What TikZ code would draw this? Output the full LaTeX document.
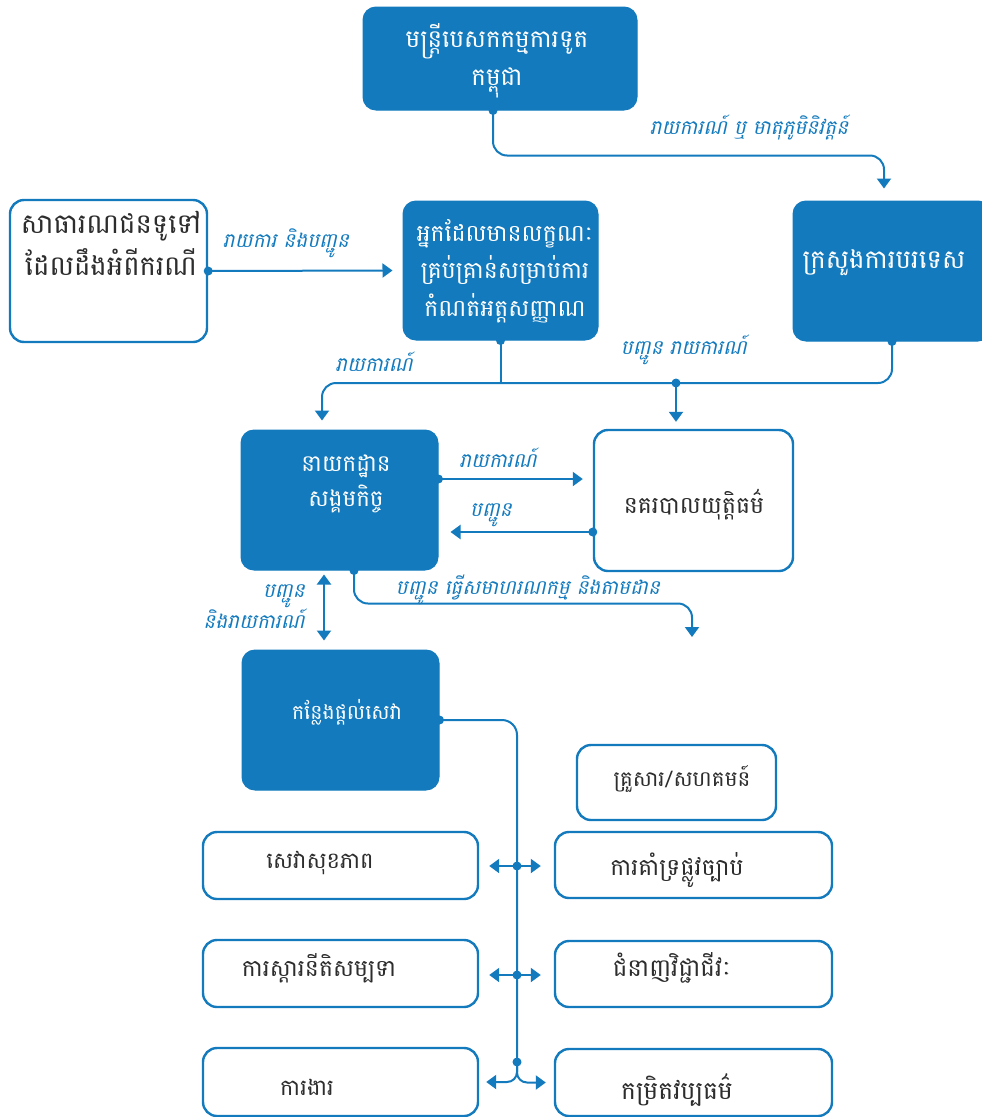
\documentclass[tikz,border=0pt]{standalone}
\usepackage{fontspec}
\usetikzlibrary{arrows.meta,calc}
\newfontfamily\kh[Script=Khmer]{Battambang}
\newfontfamily\khi[Script=Khmer,FakeSlant=0.22]{Battambang}
\newcommand\khs[2]{\kh\fontsize{#1}{#2}\selectfont}
\definecolor{kblue}{RGB}{19,122,189}
\definecolor{ktext}{RGB}{45,45,45}
\tikzset{
  fbox/.style={draw=kblue, fill=kblue, line width=1pt, rounded corners=13pt, inner sep=0pt},
  obox/.style={draw=kblue, fill=white, line width=2.4pt, rounded corners=14pt, inner sep=0pt},
  conn/.style={draw=kblue, line width=2pt},
  arr/.style={conn, -{Triangle[length=10pt,width=14pt]}},
  dbl/.style={conn, {Triangle[length=10pt,width=14pt]}-{Triangle[length=10pt,width=14pt]}},
  wt/.style={text=white, align=center, inner sep=0pt},
  dt/.style={text=ktext, align=center, inner sep=0pt},
  lab/.style={font=\khi\fontsize{20}{29}\selectfont, text=kblue, inner sep=0pt}
}
\begin{document}
\begin{tikzpicture}[x=1pt,y=-1pt]
\useasboundingbox (0,0) rectangle (982,1117);
\clip (0,0) rectangle (982,1117);
% boxes
\node[fbox, minimum width=274pt, minimum height=103pt] (emb) at (500,58.5) {};
\node[obox, minimum width=197pt, minimum height=142pt] (pub) at (108.5,271) {};
\node[fbox, minimum width=195pt, minimum height=139pt] (qual) at (500.5,270.5) {};
\node[fbox, minimum width=198pt, minimum height=140pt] (mfa) at (892,271) {};
\node[fbox, minimum width=197pt, minimum height=140pt] (soc) at (339.5,500) {};
\node[obox, minimum width=199pt, minimum height=141pt] (pol) at (693.5,500.5) {};
\node[fbox, minimum width=197pt, minimum height=140pt] (serv) at (340.5,720) {};
\node[obox, minimum width=199pt, minimum height=75pt] (fam) at (676.5,782.5) {};
\node[obox, minimum width=275pt, minimum height=67pt] (health) at (340.5,865.5) {};
\node[obox, minimum width=277pt, minimum height=66pt] (legal) at (693.5,865) {};
\node[obox, minimum width=275pt, minimum height=67pt] (rehab) at (340.5,973.5) {};
\node[obox, minimum width=277pt, minimum height=66pt] (skill) at (693.5,974) {};
\node[obox, minimum width=275pt, minimum height=68pt] (job) at (340.5,1082) {};
\node[obox, minimum width=277pt, minimum height=67pt] (cult) at (693.5,1082.5) {};
% box texts
\node[wt, font=\khs{24.5}{38}] (embt) at (497,61) {មន្ត្រីបេសកកម្មការទូត\\កម្ពុជា};
\node[dt, font=\khs{27.5}{42}] (pubt) at (111,243) {សាធារណជនទូទៅ\\ដែលដឹងអំពីករណី};
\node[wt, font=\khs{23.5}{37.5}] (qualt) at (505,271) {អ្នកដែលមានលក្ខណៈ\\គ្រប់គ្រាន់សម្រាប់ការ\\កំណត់អត្តសញ្ញាណ};
\node[wt, font=\khs{26}{37}] (mfat) at (884,263) {ក្រសួងការបរទេស};
\node[wt, font=\khs{23}{35}] (soct) at (346,484) {នាយកដ្ឋាន\\សង្គមកិច្ច};
\node[dt, font=\khs{23.5}{37}] (polt) at (694,505) {នគរបាលយុត្តិធម៌};
\node[wt, font=\khs{20.5}{37}] (servt) at (347,712) {កន្លែងផ្តល់សេវា};
\node[dt, font=\khs{21.5}{37}] (famt) at (682,779) {គ្រួសារ/សហគមន៍};
\node[dt, font=\khs{22.5}{37}] (healtht) at (320,863) {សេវាសុខភាព};
\node[dt, font=\khs{23.5}{37}] (legalt) at (677,870) {ការគាំទ្រផ្លូវច្បាប់};
\node[dt, font=\khs{23.5}{37}] (rehabt) at (319,968) {ការស្តារនីតិសម្បទា};
\node[dt, font=\khs{24.5}{37}] (skillt) at (672,968) {ជំនាញវិជ្ជាជីវៈ};
\node[dt, font=\khs{22.5}{37}] (jobt) at (307,1087) {ការងារ};
\node[dt, font=\khs{25}{37}] (cultt) at (677,1090) {កម្រិតវប្បធម៌};
% coordinates
\coordinate (jp) at (676,383);
\coordinate (intc) at (692,637);
\coordinate (j1) at (517,866);
\coordinate (j2) at (517,975);
\coordinate (j3) at (517,1062);
% connectors
\draw[arr, rounded corners=14pt] ($(emb.south)+(-7,0)$) coordinate (embd) -- ++(0,45) -| ($(mfa.north)+(-8,-12)$);
\draw[arr] (pub.east) -- ($(qual.west)+(-10,0)$);
\draw[conn] (qual.south) -- (qual.south |- jp);
\draw[conn, rounded corners=14pt] (mfa.south) |- (jp);
\draw[arr, rounded corners=14pt] (jp) -| ($(soc.north)+(-17.5,-9)$);
\draw[arr] (jp) -- ($(pol.north)+(-17.5,-7)$);
\draw[arr] ($(soc.east)+(0,-21)$) coordinate (socd) -- ($(pol.west)+(-10,-21.5)$);
\draw[arr] ($(pol.west)+(0,31.5)$) coordinate (pold) -- ($(soc.east)+(12,32)$);
\draw[dbl] ($(soc.south)+(-15.5,4)$) -- ($(serv.north)+(-16.5,-9)$);
\draw[arr, rounded corners=14pt] ($(soc.south)+(14.5,0)$) coordinate (socb) -- ++(0,33) -| (intc);
\draw[conn, rounded corners=15pt] (serv.east) -| (j3);
\draw[arr, shorten >=10pt] (j1) -- (j1 -| health.east);
\draw[arr, shorten >=13pt] (j1) -- (j1 -| legal.west);
\draw[arr, shorten >=10pt] (j2) -- (j2 -| rehab.east);
\draw[arr, shorten >=13pt] (j2) -- (j2 -| skill.west);
\draw[arr, rounded corners=10pt, shorten >=7pt] (j3) |- (job.east);
\draw[arr, rounded corners=10pt, shorten >=8pt] (j3) |- (cult.west);
% dots
\foreach \p in {embd, pub.east, qual.south, mfa.south, jp, socd, pold, socb, serv.east, j1, j2, j3}
  \fill[kblue] (\p) circle (4.5pt);
% labels
\node[lab] (l1) at (749,127) {រាយការណ៍ ឬ មាតុភូមិនិវត្តន៍};
\node[lab] (l2) at (286,243) {រាយការ និងបញ្ជូន};
\node[lab] (l3) at (374,362) {រាយការណ៍};
\node[lab] (l4) at (684,350) {បញ្ជូន រាយការណ៍};
\node[lab] (l5) at (498,458) {រាយការណ៍};
\node[lab] (l6) at (491,515) {បញ្ជូន};
\node[lab, align=right, anchor=east] (l7) at (305,607) {បញ្ជូន\\និងរាយការណ៍};
\node[lab] (l8) at (528,590) {បញ្ជូន ធ្វើសមាហរណកម្ម និងតាមដាន};
\end{tikzpicture}
\end{document}
